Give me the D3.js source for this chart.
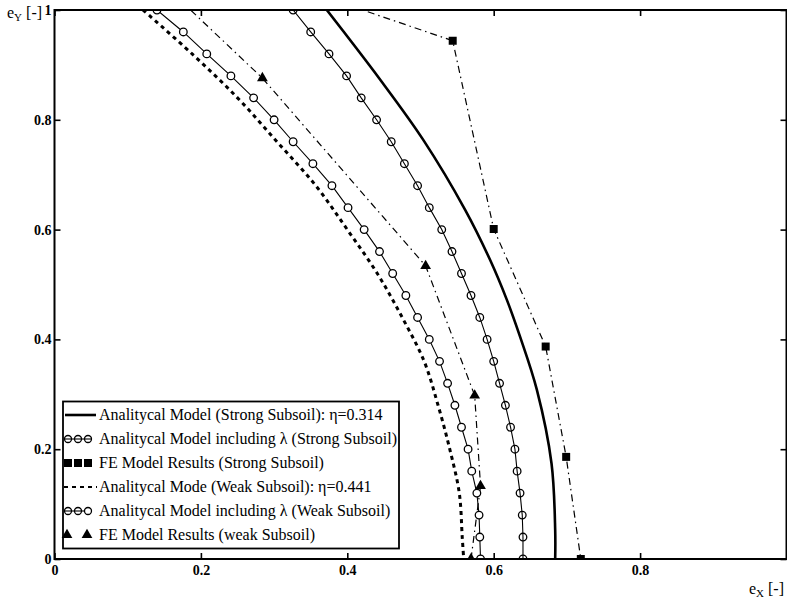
<!DOCTYPE html>
<html>
<head>
<meta charset="utf-8">
<script src="https://cdn.jsdelivr.net/npm/d3@7"></script>
<style>
body { margin: 0; background: #fff; overflow: hidden; }
text { font-family: "Liberation Serif", "Times New Roman", serif; fill: #000; }
</style>
</head>
<body>
<div id="root"></div>
<script>
// values (e_X, e_Y)
const lambdaEy = [1.00, 0.96, 0.92, 0.88, 0.84, 0.80, 0.76, 0.72, 0.68, 0.64, 0.60, 0.56, 0.52,
  0.48, 0.44, 0.40, 0.36, 0.32, 0.28, 0.24, 0.20, 0.16, 0.12, 0.08, 0.04, 0.00];
const strongLambdaEx = [0.326, 0.350, 0.375, 0.399, 0.419, 0.440, 0.460, 0.478, 0.496, 0.512, 0.529, 0.543, 0.556,
  0.569, 0.581, 0.591, 0.600, 0.608, 0.616, 0.623, 0.629, 0.632, 0.636, 0.639, 0.640, 0.640];
const weakLambdaEx = [0.140, 0.176, 0.208, 0.241, 0.272, 0.300, 0.326, 0.353, 0.379, 0.401, 0.423, 0.444, 0.462,
  0.480, 0.496, 0.512, 0.526, 0.537, 0.547, 0.556, 0.565, 0.570, 0.577, 0.580, 0.581, 0.582];

const strongModelEy = [1.00, 0.873, 0.763, 0.636, 0.545, 0.472, 0.405, 0.308, 0.174, 0.053, 0.00];
const strongModelEx = [0.372, 0.445, 0.504, 0.561, 0.595, 0.618, 0.636, 0.659, 0.679, 0.684, 0.684];

const weakModelEy = [1.00, 0.92, 0.84, 0.76, 0.68, 0.60, 0.52, 0.44, 0.36, 0.28, 0.20, 0.12, 0.04, 0.00];
const weakModelEx = [0.121, 0.188, 0.250, 0.304, 0.357, 0.400, 0.441, 0.475, 0.505, 0.524, 0.540, 0.553, 0.557, 0.559];

const feStrongEx = [0.300, 0.544, 0.600, 0.671, 0.699, 0.719];
const feStrongEy = [1.055, 0.944, 0.601, 0.387, 0.186, 0.000];
const feWeakEx = [0.170, 0.284, 0.507, 0.574, 0.582, 0.569];
const feWeakEy = [1.020, 0.876, 0.534, 0.298, 0.133, 0.000];

const xTicks = [0, 0.2, 0.4, 0.6, 0.8];
const yTicks = [0, 0.2, 0.4, 0.6, 0.8, 1];

const legendLabels = [
  "Analitycal Model (Strong Subsoil): η=0.314",
  "Analitycal Model including λ (Strong Subsoil)",
  "FE Model Results (Strong Subsoil)",
  "Analitycal Mode (Weak Subsoil): η=0.441",
  "Analitycal Model including λ (Weak Subsoil)",
  "FE Model Results (weak Subsoil)"
];

const width = 787, height = 599;
const x = d3.scaleLinear().domain([0, 1]).range([54.5, 786.5]);
const y = d3.scaleLinear().domain([0, 1]).range([559, 10]);

const svg = d3.select('#root').append('svg')
  .attr('width', width)
  .attr('height', height);

svg.append('defs').append('clipPath').attr('id', 'plot')
  .append('rect')
  .attr('x', x(0)).attr('y', y(1))
  .attr('width', x(1) - x(0)).attr('height', y(0) - y(1));

const zip = (xs, ys) => xs.map((v, i) => [v, ys[i]]);
const line = d3.line().x(d => x(d[0])).y(d => y(d[1]));
const smooth = d3.line().x(d => x(d[0])).y(d => y(d[1])).curve(d3.curveCatmullRom);

const plot = svg.append('g').attr('clip-path', 'url(#plot)');

const DASHDOT = '7,4,1.5,4';

// analytical model, strong subsoil
plot.append('path')
  .attr('d', smooth(zip(strongModelEx, strongModelEy)))
  .attr('fill', 'none').attr('stroke', '#000').attr('stroke-width', 2.6);

// analytical model, weak subsoil
plot.append('path')
  .attr('d', smooth(zip(weakModelEx, weakModelEy)))
  .attr('fill', 'none').attr('stroke', '#000').attr('stroke-width', 3)
  .attr('stroke-dasharray', '4,4');

// lambda curves
plot.append('path')
  .attr('d', line(zip(strongLambdaEx, lambdaEy)))
  .attr('fill', 'none').attr('stroke', '#000').attr('stroke-width', 1.1);
plot.append('path')
  .attr('d', line(zip(weakLambdaEx, lambdaEy)))
  .attr('fill', 'none').attr('stroke', '#000').attr('stroke-width', 1.1);

// FE results
plot.append('path')
  .attr('d', line(zip(feStrongEx, feStrongEy)))
  .attr('fill', 'none').attr('stroke', '#000').attr('stroke-width', 1.2)
  .attr('stroke-dasharray', DASHDOT);
plot.append('path')
  .attr('d', line(zip(feWeakEx, feWeakEy)))
  .attr('fill', 'none').attr('stroke', '#000').attr('stroke-width', 1.2)
  .attr('stroke-dasharray', DASHDOT);

const circle = (g, data, fill) => g.selectAll(null)
  .data(data).enter().append('circle')
  .attr('cx', d => x(d[0])).attr('cy', d => y(d[1]))
  .attr('r', 3.8)
  .attr('fill', fill).attr('stroke', '#000').attr('stroke-width', 1.3);

circle(plot, zip(strongLambdaEx, lambdaEy), 'none');
circle(plot, zip(weakLambdaEx, lambdaEy), '#fff');

const square = d3.symbol().type(d3.symbolSquare).size(64);
const triangle = d3.symbol().type(d3.symbolTriangle).size(50);

plot.selectAll('.sq')
  .data(zip(feStrongEx, feStrongEy)).enter().append('path')
  .attr('class', 'sq')
  .attr('d', square)
  .attr('transform', d => `translate(${x(d[0])},${y(d[1])})`);

plot.selectAll('.tri')
  .data(zip(feWeakEx, feWeakEy)).enter().append('path')
  .attr('class', 'tri')
  .attr('d', triangle)
  .attr('transform', d => `translate(${x(d[0])},${y(d[1])})`);

// axes with inward ticks on all four sides
const fmt = d => d === 0 ? '0' : d === 1 ? '1' : d3.format('.1f')(d);

svg.append('g')
  .attr('transform', `translate(0,${y(0)})`)
  .call(d3.axisBottom(x).tickValues(xTicks).tickSize(-6).tickSizeOuter(0).tickPadding(6).tickFormat(fmt));
svg.append('g')
  .attr('transform', `translate(${x(0)},0)`)
  .call(d3.axisLeft(y).tickValues(yTicks).tickSize(-6).tickSizeOuter(0).tickPadding(3).tickFormat(fmt));
svg.append('g')
  .attr('transform', `translate(0,${y(1)})`)
  .call(d3.axisTop(x).tickValues(xTicks).tickSize(-6).tickSizeOuter(0).tickFormat(''));
svg.append('g')
  .attr('transform', `translate(${x(1)},0)`)
  .call(d3.axisRight(y).tickValues(yTicks).tickSize(-6).tickSizeOuter(0).tickFormat(''));

svg.selectAll('.domain').remove();
svg.selectAll('.tick line').attr('stroke', '#000').attr('stroke-width', 1.6);
svg.selectAll('.tick text')
  .style('font-family', '"Liberation Serif", serif')
  .style('font-size', '14px')
  .style('font-weight', 'bold')
  .attr('fill', '#000');

// frame
svg.append('rect')
  .attr('x', x(0)).attr('y', y(1))
  .attr('width', x(1) - x(0)).attr('height', y(0) - y(1))
  .attr('fill', 'none').attr('stroke', '#000').attr('stroke-width', 2);

// axis titles
const yTitle = svg.append('text').attr('x', 7).attr('y', 18).style('font-size', '16px');
yTitle.append('tspan').text('e');
yTitle.append('tspan').attr('dy', 3).style('font-size', '11px').text('Y');
yTitle.append('tspan').attr('dy', -3).text(' [-]');

const xTitle = svg.append('text').attr('x', 784).attr('y', 594)
  .attr('text-anchor', 'end').style('font-size', '16px');
xTitle.append('tspan').text('e');
xTitle.append('tspan').attr('dy', 3).style('font-size', '11px').text('X');
xTitle.append('tspan').attr('dy', -3).text(' [-]');

// legend
const legend = svg.append('g');
legend.append('rect')
  .attr('x', 63).attr('y', 401.5)
  .attr('width', 336).attr('height', 147)
  .attr('fill', '#fff').attr('stroke', '#000').attr('stroke-width', 1.8);

const rowY = i => 415 + i * 24;

legend.selectAll('.lbl')
  .data(legendLabels).enter().append('text')
  .attr('class', 'lbl')
  .attr('x', 99).attr('y', (d, i) => rowY(i) + 5)
  .style('font-size', '16px')
  .text(d => d);

const sampleX = [68, 78, 88];
// row 0: thick solid
legend.append('line').attr('x1', 65).attr('x2', 96).attr('y1', rowY(0)).attr('y2', rowY(0))
  .attr('stroke', '#000').attr('stroke-width', 2.6);
// row 1: circles on a line
legend.append('line').attr('x1', 64).attr('x2', 92).attr('y1', rowY(1)).attr('y2', rowY(1))
  .attr('stroke', '#000').attr('stroke-width', 1.1);
legend.selectAll('.c1').data(sampleX).enter().append('circle')
  .attr('cx', d => d).attr('cy', rowY(1)).attr('r', 3.5)
  .attr('fill', 'none').attr('stroke', '#000').attr('stroke-width', 1.3);
// row 2: squares
legend.selectAll('.s2').data(sampleX).enter().append('path')
  .attr('d', square).attr('transform', d => `translate(${d},${rowY(2)})`);
// row 3: dotted
legend.append('line').attr('x1', 64).attr('x2', 97).attr('y1', rowY(3)).attr('y2', rowY(3))
  .attr('stroke', '#000').attr('stroke-width', 2).attr('stroke-dasharray', '4,4');
// row 4: circles on a line, last one open
legend.append('line').attr('x1', 64).attr('x2', 84).attr('y1', rowY(4)).attr('y2', rowY(4))
  .attr('stroke', '#000').attr('stroke-width', 1.1);
legend.selectAll('.c4').data(sampleX).enter().append('circle')
  .attr('cx', d => d).attr('cy', rowY(4)).attr('r', 3.5)
  .attr('fill', (d, i) => i === 2 ? '#fff' : 'none').attr('stroke', '#000').attr('stroke-width', 1.3);
// row 5: triangles
legend.selectAll('.t5').data([67, 87]).enter().append('path')
  .attr('d', triangle).attr('transform', d => `translate(${d},${rowY(5)})`);
</script>
</body>
</html>
